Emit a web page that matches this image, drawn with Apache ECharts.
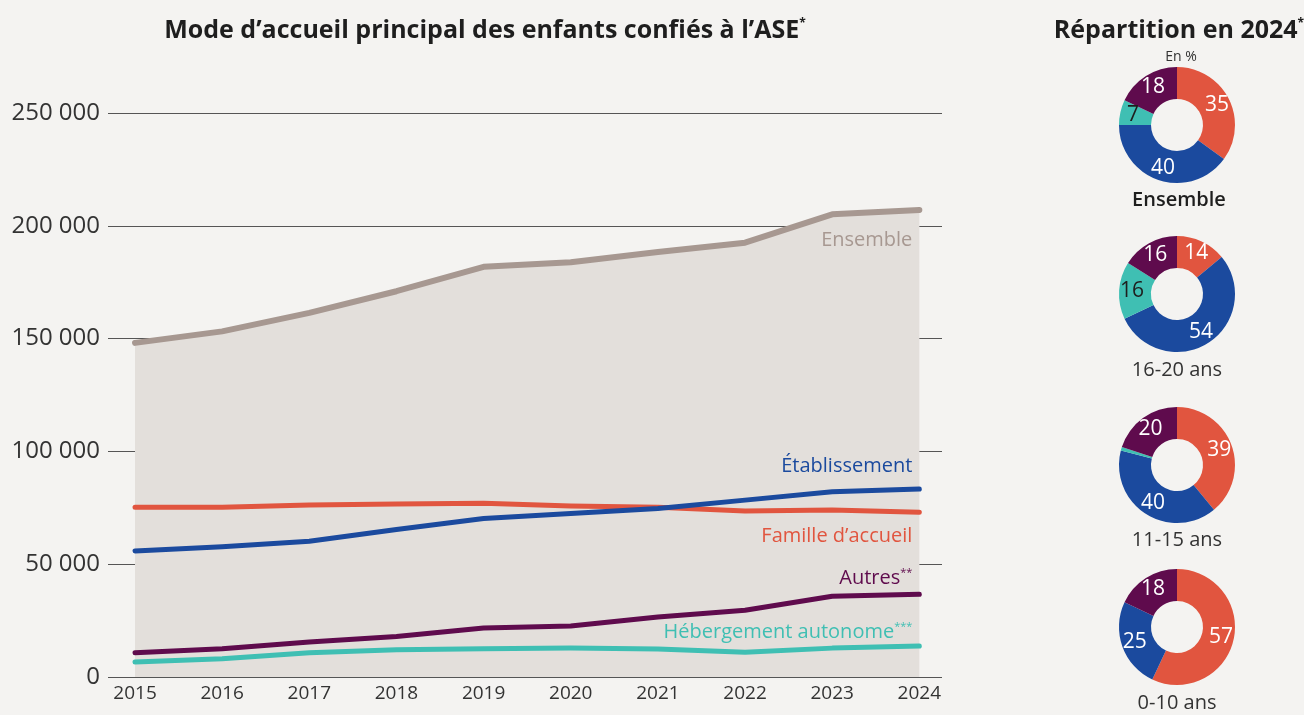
<!DOCTYPE html>
<html>
<head>
<meta charset="utf-8">
<script src="https://cdn.jsdelivr.net/npm/echarts@6/dist/echarts.min.js"></script>
<style>
  html, body { margin: 0; padding: 0; background: #f4f3f1; }
  #chart { width: 1304px; height: 715px; }
</style>
</head>
<body>
<div id="chart"></div>
<script>
// donnees
const years = [2015, 2016, 2017, 2018, 2019, 2020, 2021, 2022, 2023, 2024]
const ensemble = [148100, 153200, 161400, 171000, 181800, 183800, 188400, 192500, 205100, 207000]
const etablissement = [55900, 57700, 60200, 65400, 70300, 72500, 74700, 78400, 82100, 83300]
const famille = [75200, 75200, 76200, 76700, 77000, 75800, 75200, 73600, 74000, 73000]
const autres = [10700, 12500, 15500, 18000, 21700, 22600, 26600, 29600, 35800, 36700]
const hebergement = [6600, 8100, 10700, 12100, 12500, 12800, 12400, 11000, 12800, 13700]
const yTicks = [0, 50000, 100000, 150000, 200000, 250000]

// repartition 2024 (famille, etablissement, hebergement autonome, autres)
const pieNames = ['Famille d’accueil', 'Établissement', 'Hébergement autonome', 'Autres']
const pieEnsemble = [35, 40, 7, 18]
const pie1620 = [14, 54, 16, 16]
const pie1115 = [39, 40, 1, 20]
const pie010 = [57, 25, 0, 18]

const C_ENS = '#a79891', C_AREA = '#e3dfdb', C_FAM = '#e1553f', C_ETA = '#1b4a9e',
      C_AUT = '#5f0b4d', C_HEB = '#3fbfb3'
const FONT = 'Open Sans'

function pairs(vals) {
  return years.map((y, i) => [y, vals[i]])
}

function lineSerie(name, vals, color, width, labelText, dy, extra) {
  let last = vals.length - 1
  return Object.assign({
    name: name,
    type: 'line',
    data: pairs(vals),
    showSymbol: false,
    symbol: 'none',
    lineStyle: { color: color, width: width, cap: 'round', join: 'round' },
    itemStyle: { color: color },
    silent: true,
    markPoint: {
      symbol: 'circle',
      symbolSize: 0,
      silent: true,
      data: [{
        coord: [years[last], vals[last]],
        label: {
          show: true,
          position: 'left',
          distance: 7,
          offset: [0, dy],
          formatter: labelText,
          color: color,
          fontFamily: FONT,
          fontSize: 20,
          rich: {
            sup: { color: color, fontFamily: FONT, fontSize: 11, verticalAlign: 'top', padding: [0, 0, 11, 0] }
          }
        }
      }]
    }
  }, extra || {})
}

function pieSerie(name, vals, cy) {
  const colors = [C_FAM, C_ETA, C_HEB, C_AUT]
  return {
    name: name,
    type: 'pie',
    center: [1177, cy],
    radius: [26, 58],
    startAngle: 90,
    clockwise: true,
    silent: true,
    avoidLabelOverlap: false,
    labelLine: { show: false },
    data: vals.map((v, i) => ({
      name: pieNames[i],
      value: v,
      itemStyle: { color: colors[i] },
      label: {
        show: v >= 3,
        position: 'inside',
        formatter: '{c}',
        color: i === 2 ? '#1e1e1e' : '#ffffff',
        fontFamily: FONT,
        fontSize: 21
      }
    }))
  }
}

const titleSup = { fontFamily: FONT, fontSize: 12, fontWeight: 'bold', color: '#1e1e1e', verticalAlign: 'top', padding: [0, 0, 12, 0] }

let option = {
  backgroundColor: '#f4f3f1',
  animation: false,
  title: [
    {
      text: 'Mode d’accueil principal des enfants confiés à l’ASE{s|*}',
      left: 480, top: 13, textAlign: 'center',
      textStyle: { fontFamily: FONT, fontSize: 25, fontWeight: 'bold', color: '#1e1e1e', rich: { s: titleSup } }
    },
    {
      text: 'Répartition en 2024{s|*}',
      left: 1174, top: 13, textAlign: 'center',
      textStyle: { fontFamily: FONT, fontSize: 25, fontWeight: 'bold', color: '#1e1e1e', rich: { s: titleSup } }
    },
    { text: 'En %', left: 1176, top: 45, textAlign: 'center', textStyle: { fontFamily: FONT, fontSize: 14, fontWeight: 'normal', color: '#333' } },
    { text: 'Ensemble', left: 1174, top: 185, textAlign: 'center', textStyle: { fontFamily: FONT, fontSize: 20, fontWeight: 600, color: '#1e1e1e' } },
    { text: '16-20 ans', left: 1172, top: 355, textAlign: 'center', textStyle: { fontFamily: FONT, fontSize: 20, fontWeight: 'normal', color: '#333' } },
    { text: '11-15 ans', left: 1172, top: 525, textAlign: 'center', textStyle: { fontFamily: FONT, fontSize: 20, fontWeight: 'normal', color: '#333' } },
    { text: '0-10 ans', left: 1172, top: 688, textAlign: 'center', textStyle: { fontFamily: FONT, fontSize: 20, fontWeight: 'normal', color: '#333' } }
  ],
  grid: { left: 108, right: 362, top: 113, bottom: 38 },
  xAxis: {
    type: 'value',
    min: 2014.69,
    max: 2024.26,
    axisLine: { show: false },
    axisTick: { show: false },
    splitLine: { show: false },
    axisLabel: {
      customValues: years,
      formatter: v => String(v),
      color: '#333',
      fontFamily: FONT,
      fontSize: 19,
      margin: 7
    }
  },
  yAxis: {
    type: 'value',
    min: 0,
    max: 250000,
    interval: 50000,
    axisLine: { show: false },
    axisTick: { show: false },
    splitLine: { lineStyle: { color: '#555', width: 1 } },
    axisLabel: {
      customValues: yTicks,
      formatter: v => v === 0 ? '0' : String(v).replace(/\B(?=(\d{3})+(?!\d))/g, ' '),
      color: '#333',
      fontFamily: FONT,
      fontSize: 24,
      margin: 8
    }
  },
  series: [
    lineSerie('Ensemble', ensemble, C_ENS, 6, 'Ensemble', 30, {
      areaStyle: { color: C_AREA, opacity: 1 },
      z: 1
    }),
    lineSerie('Famille d’accueil', famille, C_FAM, 5, 'Famille d’accueil', 24),
    lineSerie('Établissement', etablissement, C_ETA, 5, 'Établissement', -23),
    lineSerie('Autres', autres, C_AUT, 5, 'Autres{sup|**}', -16),
    lineSerie('Hébergement autonome', hebergement, C_HEB, 5, 'Hébergement autonome{sup|***}', -14),
    pieSerie('Ensemble 2024', pieEnsemble, 125),
    pieSerie('16-20 ans', pie1620, 294),
    pieSerie('11-15 ans', pie1115, 465),
    pieSerie('0-10 ans', pie010, 627)
  ]
}

let myChart = echarts.init(document.getElementById('chart'))
myChart.setOption(option)
</script>
</body>
</html>
